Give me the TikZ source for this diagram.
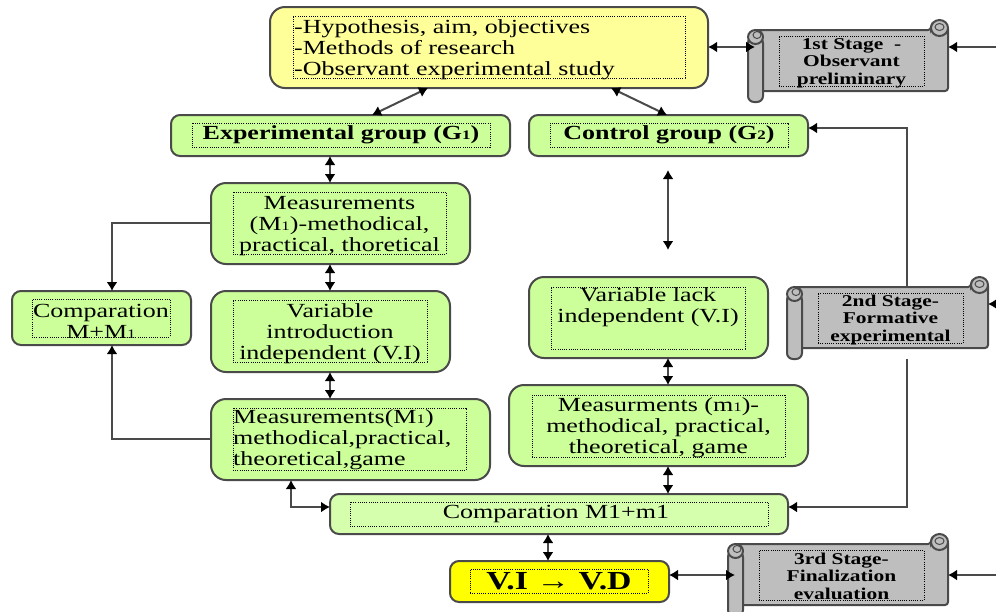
\documentclass[tikz,border=0pt]{standalone}
\usepackage{fontspec}
\setmainfont[FakeStretch=1.3]{Liberation Serif}
\usetikzlibrary{arrows.meta,fit,positioning}
\definecolor{linegr}{HTML}{4A4A4A}
\definecolor{lgreen}{HTML}{CCFF99}
\definecolor{pgreen}{HTML}{D6FFAD}
\definecolor{lyellow}{HTML}{FFFF99}
\definecolor{vyellow}{HTML}{FFFF00}
\definecolor{scrollgr}{HTML}{BEBEBE}
\tikzset{
  boxbase/.style={draw=linegr,line width=2pt,inner sep=0pt,outer sep=0pt},
  bigbox/.style={boxbase,rounded corners=15pt},
  smallbox/.style={boxbase,rounded corners=9pt},
  inbox/.style={draw=black,line width=1pt,dash pattern=on 1pt off 1.2pt,inner sep=0pt,outer sep=0pt,align=center,text=black},
  txt/.style={font=\fontsize{20}{21}\selectfont},
  boldtxt/.style={font=\fontsize{20}{21}\selectfont\bfseries},
  stagetxt/.style={font=\fontsize{16.5}{17.5}\selectfont\bfseries},
  bothway/.style={line width=2pt,draw=linegr,{Latex[length=9pt,width=11pt,black]}-{Latex[length=9pt,width=11pt,black]}},
  oneway/.style={line width=2pt,draw=linegr,-{Latex[length=9pt,width=11pt,black]}},
  scrollpart/.style={draw=linegr,line width=2pt,fill=scrollgr}
}
\newcommand{\sbs}[1]{{\fontsize{13}{13}\selectfont #1}}
\newcommand{\scrollat}[4]{%
  \begin{scope}[shift={(#1,#2)}]
    \draw[scrollpart,rounded corners=3pt] (7,10) -- (#4-17,10) -- (#4-17,6) -- (#4,6) -- (#4,71) -- (7,71) -- cycle;
    \draw[scrollpart] (#4-8.5,8) ellipse (8.5 and 8);
    \draw[draw=linegr,line width=1pt] (#4-8.5,7) ellipse (4.5 and 3.5);
    \draw[scrollpart,rounded corners=6pt] (0,17) -- (15,17) -- (15,82) -- (0,82) -- cycle;
    \draw[scrollpart] (7.5,17) ellipse (7.5 and 7);
    \draw[draw=linegr,line width=1pt] (9,15) ellipse (4 and 3.5);
    \node[fit={(7,10)(#4,71)},inner sep=0pt,outer sep=0pt] (#3) {};
  \end{scope}}
\begin{document}
\begin{tikzpicture}[x=1pt,y=-1pt]
\clip (0,0) rectangle (996,611);
\fill[white] (0,0) rectangle (996,611);

% boxes
\node[bigbox,fill=lyellow,fit={(270,7)(708,88)}] (top) {};
\node[smallbox,fill=lgreen,fit={(171,115)(510,156)}] (expg) {};
\node[smallbox,fill=lgreen,fit={(529,115)(808,156)}] (ctrl) {};
\node[bigbox,fill=lgreen,fit={(211,183)(470,264)}] (mone) {};
\node[bigbox,fill=lgreen,fit={(211,291)(450,372)}] (vari) {};
\node[smallbox,fill=lgreen,fit={(12,291)(191,345)}] (comp) {};
\node[bigbox,fill=lgreen,fit={(211,399)(490,480)}] (mtwo) {};
\node[bigbox,fill=lgreen,fit={(529,277)(768,358)}] (vlack) {};
\node[bigbox,fill=lgreen,fit={(509,385)(808,466)}] (msm) {};
\node[smallbox,fill=pgreen,fit={(330,494)(788,534)}] (cmpb) {};
\node[smallbox,fill=vyellow,fit={(450,561)(669,602)}] (vivd) {};

% scrolls
\scrollat{748}{20}{sone}{200}
\scrollat{787}{277}{stwo}{201}
\scrollat{728}{534}{sthree}{220}

% inner dotted frames
\node[inbox,fit={(293,16)(685,78)}] (itop) {};
\node[inbox,fit={(192,123)(490,147)}] (iexp) {};
\node[inbox,fit={(550,123)(788,147)}] (ictrl) {};
\node[inbox,fit={(233,192)(446,254)}] (imone) {};
\node[inbox,fit={(233,300)(427,362)}] (ivari) {};
\node[inbox,fit={(32,299)(170,337)}] (icomp) {};
\node[inbox,fit={(233,408)(466,470)}] (imtwo) {};
\node[inbox,fit={(551,287)(745,349)}] (ivlack) {};
\node[inbox,fit={(532,395)(785,457)}] (imsm) {};
\node[inbox,fit={(350,502)(768,526)}] (icmpb) {};
\node[inbox,fit={(470,569)(648,593)}] (ivivd) {};
\node[inbox,fit={(779,36)(924,86)}] (isone) {};
\node[inbox,fit={(818,293)(963,343)}] (istwo) {};
\node[inbox,fit={(759,550)(924,600)}] (isthree) {};

% texts
\node[txt,anchor=north west,align=left,inner sep=0pt] (ttop) at (294,19) {-Hypothesis, aim, objectives\\-Methods of research\\-Observant experimental study};
\node[boldtxt] (texp) at (iexp) {Experimental group (G\sbs{1})};
\node[boldtxt] (tctrl) at (ictrl) {Control group (G\sbs{2})};
\node[txt,align=center,inner sep=0pt] (tmone) at ([yshift=-3pt]imone) {Measurements\\(M\sbs{1})-methodical,\\practical, thoretical};
\node[txt,align=center,inner sep=0pt] (tvari) at ([yshift=-3pt]ivari) {Variable\\introduction\\independent (V.I)};
\node[txt,align=center,inner sep=0pt] (tcomp) at ([yshift=-3pt]icomp) {Comparation\\M+M\sbs{1}};
\node[txt,align=left,inner sep=0pt,anchor=north west] (tmtwo) at (233,409) {Measurements(M\sbs{1})\\methodical,practical,\\theoretical,game};
\node[txt,align=center,inner sep=0pt,anchor=north] (tvlack) at (648,287) {Variable lack\\independent (V.I)};
\node[txt,align=center,inner sep=0pt] (tmsm) at ([yshift=-2pt]imsm) {Measurments (m\sbs{1})-\\methodical, practical,\\theoretical, game};
\node[txt,inner sep=0pt] (tcmpb) at ([xshift=-3pt]icmpb) {Comparation M1+m1};
\node[font=\fontsize{26}{28}\selectfont\bfseries,inner sep=0pt] (tvivd) at (ivivd) {V.I → V.D};
\node[stagetxt,align=center,inner sep=0pt] (tsone) at ([yshift=-2pt]isone) {1st Stage\ \ -\\Observant\\preliminary};
\node[stagetxt,align=center,inner sep=0pt] (tstwo) at ([yshift=-2pt]istwo) {2nd Stage-\\Formative\\experimental};
\node[stagetxt,align=center,inner sep=0pt] (tsthree) at ([yshift=-1pt]isthree) {3rd Stage-\\Finalization\\evaluation};

% free ends and guide coordinates
\coordinate (eone) at (996,47);
\coordinate (etwo) at (996,304);
\coordinate (ethree) at (996,575);
\coordinate (cfa) at (668,170);
\coordinate (cfb) at (668,250);
\coordinate (xl) at (330,0);
\coordinate (xm) at (668,0);
\coordinate (xc) at (112,0);
\coordinate (xv) at (907,0);
\coordinate (xb) at (291,0);
\coordinate (xd) at (548,0);
\coordinate (da) at (428,0);
\coordinate (db) at (372,0);
\coordinate (dc) at (611,0);
\coordinate (dd) at (667,0);
\coordinate (yt) at (0,47);
\coordinate (yb) at (0,575);
\coordinate (yc) at (0,507);
\coordinate (yk) at (0,128);
\coordinate (ya) at (0,223);
\coordinate (yd) at (0,439);

% connectors
\draw[bothway] (top.east |- yt) -- (sone.west |- yt);
\draw[oneway] (eone) -- (sone.east |- eone);
\draw[bothway] (top.south -| da) -- (expg.north -| db);
\draw[bothway] (top.south -| dc) -- (ctrl.north -| dd);
\draw[bothway] (expg.south -| xl) -- (mone.north -| xl);
\draw[bothway] (cfa) -- (cfb);
\draw[bothway] (mone.south -| xl) -- (vari.north -| xl);
\draw[bothway] (vari.south -| xl) -- (mtwo.north -| xl);
\draw[oneway] (mone.west |- ya) -- (xc |- ya) -- (comp.north -| xc);
\draw[oneway] (mtwo.west |- yd) -- (xc |- yd) -- (comp.south -| xc);
\draw[bothway] (vlack.south -| xm) -- (msm.north -| xm);
\draw[bothway] (msm.south -| xm) -- (cmpb.north -| xm);
\draw[bothway] (mtwo.south -| xb) -- (xb |- yc) -- (cmpb.west |- yc);
\draw[bothway] (cmpb.south -| xd) -- (vivd.north -| xd);
\draw[bothway] (vivd.east |- yb) -- (sthree.west |- yb);
\draw[oneway] (ethree) -- (sthree.east |- ethree);
\draw[oneway] (etwo) -- (stwo.east |- etwo);
\draw[oneway] (stwo.north -| xv) -- (xv |- yk) -- (ctrl.east |- yk);
\draw[oneway] (stwo.south -| xv) ++(0,11) -- (xv |- yc) -- (cmpb.east |- yc);
\end{tikzpicture}
\end{document}
